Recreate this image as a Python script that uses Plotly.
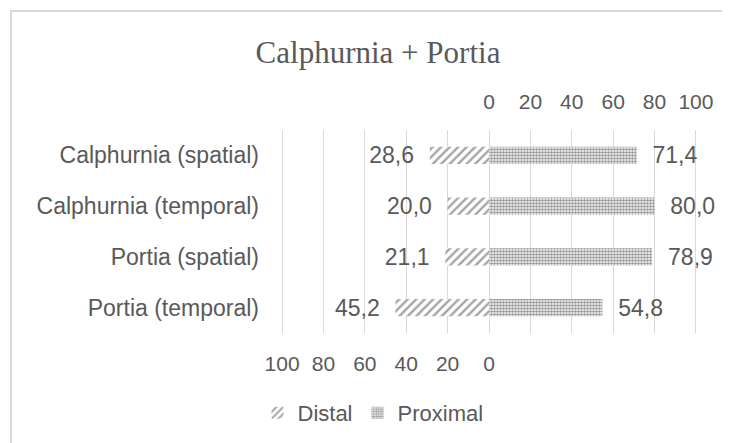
import plotly.graph_objects as go

categories = ["Calphurnia (spatial)", "Calphurnia (temporal)", "Portia (spatial)", "Portia (temporal)"]
distal = [28.6, 20.0, 21.1, 45.2]
proximal = [71.4, 80.0, 78.9, 54.8]
top_ticks = [0, 20, 40, 60, 80, 100]
bottom_ticks = [100, 80, 60, 40, 20, 0]

TXT = "#595959"
GRID = "#d9d9d9"
FONT = "Liberation Sans, Arial, sans-serif"
NB = "\u00a0"

# page has an 8px body margin; figure coordinates are offset accordingly
L, R, T, B = 272, 40, 122, 118
PW, PH = 730 - L - R, 443 - T - B


def fmt(v):
    return f"{v:.1f}".replace(".", ",")


def px_x(x):
    return (x - L) / PW


def px_y(y):
    return (443 - B - y) / PH


fig = go.Figure()
fig.add_trace(go.Bar(
    name="Distal", y=categories, x=[-v for v in distal], orientation="h",
    marker=dict(color="white", line=dict(width=0),
                pattern=dict(shape="/", fgcolor="#4a4a4a", bgcolor="white", size=6, solidity=0.4)),
    text=[fmt(v) + NB * 2 for v in distal], textposition="outside",
    textfont=dict(size=23, color=TXT, family=FONT), cliponaxis=False,
    constraintext="none",
))
fig.add_trace(go.Bar(
    name="Proximal", y=categories, x=proximal, orientation="h",
    marker=dict(color="white", line=dict(width=0),
                pattern=dict(shape=".", fgcolor="#2e2e2e", bgcolor="white", size=3, solidity=0.6)),
    text=[NB * 2 + fmt(v) for v in proximal], textposition="outside",
    textfont=dict(size=23, color=TXT, family=FONT), cliponaxis=False,
    constraintext="none",
))
# invisible trace on the top axis so xaxis2 renders
fig.add_trace(go.Scatter(x=[0], y=[categories[0]], xaxis="x2", mode="markers",
                         marker=dict(opacity=0), showlegend=False, hoverinfo="skip"))

RNG = [-101, 101]
fig.update_layout(
    width=730, height=443,
    paper_bgcolor="white", plot_bgcolor="white",
    margin=dict(l=L, r=R, t=T, b=B, autoexpand=False),
    barmode="overlay", bargap=0.665,
    font=dict(family=FONT, size=22, color=TXT),
    title=dict(text="Calphurnia + Portia", x=370 / 730, xanchor="center", y=1 - 44 / 443, yanchor="middle",
               font=dict(family="Liberation Serif, Times New Roman, serif", size=31, color=TXT)),
    xaxis=dict(range=RNG, tickvals=[-t for t in bottom_ticks], ticktext=[str(t) for t in bottom_ticks],
               showgrid=True, gridcolor=GRID, gridwidth=1, zeroline=False, showline=False,
               ticks="", ticklabelstandoff=16, tickfont=dict(size=21, color=TXT), fixedrange=True),
    xaxis2=dict(range=RNG, overlaying="x", side="top", tickvals=top_ticks,
                ticktext=[str(t) for t in top_ticks], showgrid=True, gridcolor=GRID, gridwidth=1,
                zeroline=False, showline=False, ticks="", ticklabelstandoff=16,
                tickfont=dict(size=21, color=TXT)),
    yaxis=dict(categoryorder="array", categoryarray=categories[::-1], showgrid=False, zeroline=False,
               showline=False, ticks="", ticklabelstandoff=20, tickfont=dict(size=23, color=TXT)),
    legend=dict(orientation="h", x=px_x(365), xanchor="center", y=px_y(405), yanchor="middle",
                font=dict(size=22, color=TXT), traceorder="normal", itemwidth=30),
    showlegend=True,
    shapes=[
        dict(type="line", xref="paper", yref="paper", x0=px_x(2), x1=px_x(760),
             y0=px_y(3), y1=px_y(3), line=dict(color="#d9d9d9", width=2)),
        dict(type="line", xref="paper", yref="paper", x0=px_x(3), x1=px_x(3),
             y0=px_y(2), y1=px_y(470), line=dict(color="#d9d9d9", width=2)),
    ],
)

fig.write_html("out.html")
